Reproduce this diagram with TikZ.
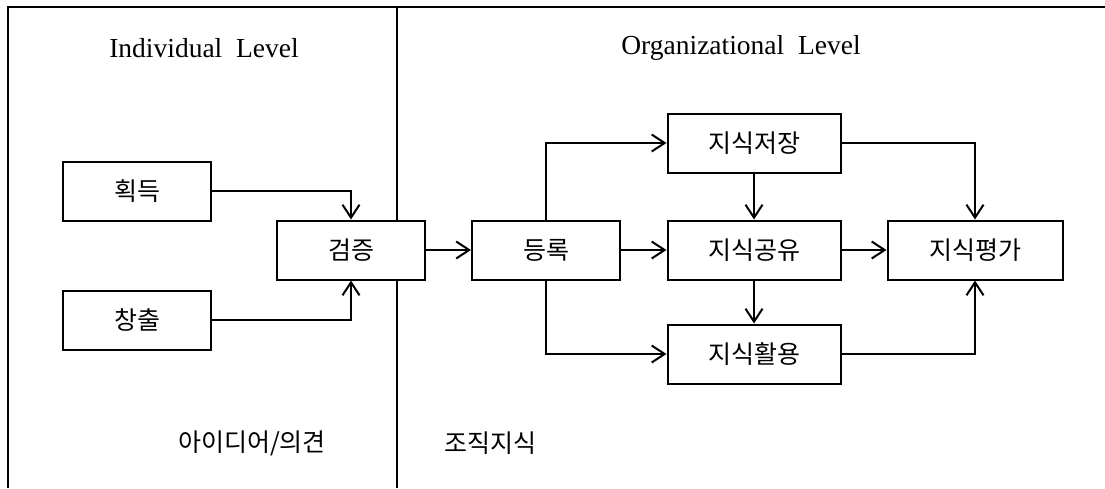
\documentclass[tikz,border=0pt]{standalone}
\usepackage{fontspec}
\setmainfont{Liberation Serif}
\newfontfamily\kr{Noto Sans CJK KR}
\usetikzlibrary{arrows.meta}
\begin{document}
\begin{tikzpicture}[x=1pt,y=-1pt,
  boxn/.style={draw, fill=white, line width=2pt, minimum width=148pt, minimum height=59pt, inner sep=0pt, font=\kr\fontsize{25}{25}\selectfont},
  conn/.style={line width=2pt, -{Straight Barb[length=13pt,width=17pt,line width=2pt]}},
  frm/.style={line width=2.2pt},
  lvl/.style={font=\fontsize{27.5}{27.5}\selectfont},
  lbl/.style={font=\kr\fontsize{25}{25}\selectfont}]
\useasboundingbox (0,0) rectangle (1105,488);
\fill[white] (0,0) rectangle (1105,488);
% frame
\coordinate (tl) at (8,7);
\coordinate (tr) at (1105,7);
\coordinate (bl) at (8,488);
\coordinate (dt) at (397,7);
\coordinate (db) at (397,488);
\draw[frm] (bl) -- (tl) -- (tr);
\draw[frm] (dt) -- (db);
% level titles
\node[lvl] (il) at (204,48) {Individual\ \ Level};
\node[lvl] (ol) at (741,48) {Organizational\ \ Level};
% bottom labels
\node[lbl] (idea) at (252,443) {아이디어/의견};
\node[lbl] (org) at (490,443) {조직지식};
% boxes
\node[boxn] (acq) at (137,191) {획득};
\node[boxn] (cre) at (137,320) {창출};
\node[boxn] (ver) at (351,250) {검증};
\node[boxn] (reg) at (546,250) {등록};
\node[boxn, minimum width=173pt] (sto) at (754,143) {지식저장};
\node[boxn, minimum width=173pt] (sha) at (754,250) {지식공유};
\node[boxn, minimum width=173pt] (use) at (754,354) {지식활용};
\node[boxn, minimum width=175pt] (eva) at (975,250) {지식평가};
% connectors
\draw[conn] (acq.east) -| (ver.north);
\draw[conn] (cre.east) -| (ver.south);
\draw[conn] (ver.east) -- (reg.west);
\draw[conn] (reg.north) |- (sto.west);
\draw[conn] (reg.east) -- (sha.west);
\draw[conn] (reg.south) |- (use.west);
\draw[conn] (sto.south) -- (sha.north);
\draw[conn] (sha.south) -- (use.north);
\draw[conn] (sto.east) -| (eva.north);
\draw[conn] (sha.east) -- (eva.west);
\draw[conn] (use.east) -| (eva.south);
\end{tikzpicture}
\end{document}
